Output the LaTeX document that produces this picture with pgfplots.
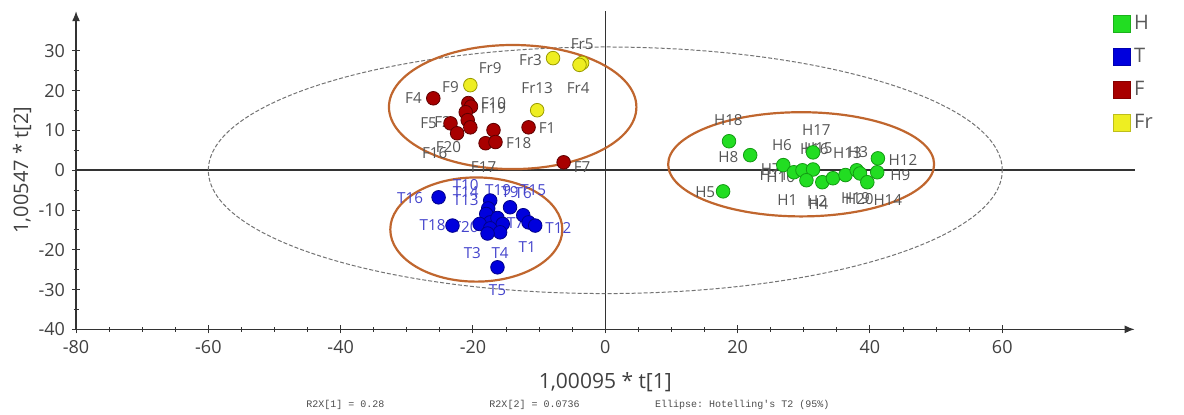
\documentclass[border=0pt]{standalone}
\usepackage{fontspec}
\setmainfont{Open Sans}
\setmonofont{Liberation Mono}
\usepackage{pgfplots}
\usepackage{pgfplotstable}
\pgfplotsset{compat=1.18}
\usetikzlibrary{arrows.meta}

\definecolor{hfill}{HTML}{22DD22}
\definecolor{hedge}{HTML}{139A13}
\definecolor{tfill}{HTML}{0000DD}
\definecolor{tedge}{HTML}{00008A}
\definecolor{ffill}{HTML}{A80000}
\definecolor{fedge}{HTML}{5E0000}
\definecolor{rfill}{HTML}{EEEE22}
\definecolor{redge}{HTML}{9A9A00}
\definecolor{ell}{HTML}{C0662E}
\definecolor{lblgrey}{HTML}{555555}
\definecolor{lblblue}{HTML}{4444CC}

\pgfplotstableread{
x y
18.7 7.3
21.9 3.8
17.8 -5.3
26.9 1.3
28.5 -0.5
29.8 0.0
31.4 4.5
31.4 0.2
30.4 -2.5
32.8 -3.0
34.4 -2.0
36.3 -1.2
38.0 0.0
38.5 -0.8
39.6 -3.0
41.2 3.0
41.1 -0.5
}\Hdata

\pgfplotstableread{
x y
-25.2 -6.8
-23.1 -13.9
-17.4 -7.6
-17.7 -9.6
-18.0 -11.0
-14.4 -9.3
-12.4 -11.3
-11.6 -13.1
-10.6 -13.9
-17.4 -13.1
-16.3 -12.0
-19.0 -13.5
-15.5 -13.5
-17.4 -14.6
-15.9 -15.6
-17.8 -15.9
-16.3 -24.4
}\Tdata

\pgfplotstableread{
x y
-26.0 18.1
-20.7 16.9
-20.3 16.0
-21.1 14.6
-20.8 12.6
-20.4 10.8
-23.4 11.8
-22.4 9.3
-16.9 10.1
-18.1 6.8
-16.6 7.1
-11.6 10.8
-6.3 2.0
}\Fdata

\pgfplotstableread{
x y
-7.9 28.2
-3.5 27.0
-3.9 26.5
-20.4 21.4
-10.3 15.1
}\Frdata

\pgfplotstableread{
x y label
-29.0 18.1 F4
-23.4 20.9 F9
-17.4 25.7 Fr9
-11.3 27.7 Fr3
-3.5 31.7 Fr5
-4.1 20.7 Fr4
-10.3 20.7 Fr13
-16.9 16.9 F10
-16.9 15.6 F19
-26.7 11.8 F5
-24.6 12.1 F2
-23.7 5.8 F20
-25.8 4.3 F16
-18.4 0.8 F17
-13.1 6.8 F18
-8.8 10.6 F1
-3.5 0.8 F7
18.6 12.6 H18
18.6 3.3 H8
15.1 -5.5 H5
26.7 6.3 H6
27.5 -7.6 H1
25.0 0.3 H7
25.5 -1.3 H11
26.5 -1.8 H10
31.9 10.1 H17
32.2 5.5 H15
31.6 5.3 H16
36.6 4.3 H13
38.2 4.5 H3
45.0 2.5 H12
44.6 -1.3 H9
32.0 -7.6 H2
32.2 -8.6 H4
37.8 -7.1 H19
38.4 -7.3 H20
42.7 -7.6 H14
}\GreyLabels

\pgfplotstableread{
x y label
-29.5 -7.0 T16
-21.1 -3.8 T10
-21.1 -5.5 T14
-21.1 -7.6 T13
-16.2 -5.0 T19
-14.4 -5.5 T9
-12.4 -5.8 T6
-10.9 -5.0 T15
-26.1 -13.9 T18
-21.1 -14.4 T20
-7.1 -14.4 T12
-13.6 -13.4 T7
-11.8 -19.4 T1
-20.1 -20.7 T3
-15.9 -20.9 T4
-16.3 -30.2 T5
}\BlueLabels

\begin{document}
\begin{tikzpicture}
\begin{axis}[
  name=ax,
  scale only axis,
  width=529pt, height=159pt,
  xmin=-80, xmax=80, ymin=-40, ymax=40,
  axis lines=left,
  axis line style={draw=black!80, line width=0.6pt, -{Latex[length=5pt,width=4pt]}},
  xtick={-80,-60,...,60},
  ytick={-40,-30,...,30},
  minor x tick num=3,
  minor y tick num=1,
  tick align=center,
  major tick length=4pt,
  minor tick length=2.5pt,
  tick style={black!80, line width=0.5pt},
  ticklabel style={font=\fontsize{9}{11}\selectfont, text=black!75},
  /pgf/number format/assume math mode=true,
  clip=false,
  legend style={at={(0.98,1.0)}, anchor=north west, draw=none, fill=none,
    font=\fontsize{10}{12}\selectfont, text=black!65,
    row sep=3.8pt, inner sep=0pt, outer sep=0pt,
    /tikz/every even column/.append style={column sep=3pt}},
  legend cell align=left,
]
\addlegendimage{only marks, mark=square*, mark size=4.2pt, mark options={fill=hfill, draw=hfill!80!black}}
\addlegendentry{H}
\addlegendimage{only marks, mark=square*, mark size=4.2pt, mark options={fill=tfill, draw=tfill!80!black}}
\addlegendentry{T}
\addlegendimage{only marks, mark=square*, mark size=4.2pt, mark options={fill=ffill, draw=ffill!80!black}}
\addlegendentry{F}
\addlegendimage{only marks, mark=square*, mark size=4.2pt, mark options={fill=rfill, draw=rfill!80!black}}
\addlegendentry{Fr}

% zero lines
\draw[black!80, line width=0.8pt] (axis cs:-80,0) -- (axis cs:80,0);
\draw[black!80, line width=0.8pt] (axis cs:0,-40) -- (axis cs:0,40);

% Hotelling ellipse
\draw[black!55, dashed, dash pattern=on 2pt off 1pt, line width=0.5pt] (axis cs:0,0) ellipse [x radius=60, y radius=31];
% group ellipses
\draw[ell, line width=1.1pt] (axis cs:-14.0,15.9) ellipse [x radius=18.7, y radius=15.6];
\draw[ell, line width=1.1pt] (axis cs:-19.5,-14.9) ellipse [x radius=13.0, y radius=13.1];
\draw[ell, line width=1.1pt] (axis cs:29.6,1.5) ellipse [x radius=20.1, y radius=13.1];

% labels
\addplot[draw=none, mark=none, forget plot, nodes near coords, point meta=explicit symbolic,
  nodes near coords align=center,
  every node near coord/.append style={anchor=center, inner sep=0pt, font=\fontsize{7.6}{9}\selectfont, text=lblgrey}]
  table[x=x, y=y, meta=label] {\GreyLabels};
\addplot[draw=none, mark=none, forget plot, nodes near coords, point meta=explicit symbolic,
  nodes near coords align=center,
  every node near coord/.append style={anchor=center, inner sep=0pt, font=\fontsize{7.6}{9}\selectfont, text=lblblue}]
  table[x=x, y=y, meta=label] {\BlueLabels};

% points
\addplot[only marks, mark=*, mark size=3.4pt, forget plot, mark options={fill=hfill, draw=hedge, line width=0.4pt}] table[x=x,y=y] {\Hdata};
\addplot[only marks, mark=*, mark size=3.4pt, forget plot, mark options={fill=tfill, draw=tedge, line width=0.4pt}] table[x=x,y=y] {\Tdata};
\addplot[only marks, mark=*, mark size=3.4pt, forget plot, mark options={fill=ffill, draw=fedge, line width=0.4pt}] table[x=x,y=y] {\Fdata};
\addplot[only marks, mark=*, mark size=3.4pt, forget plot, mark options={fill=rfill, draw=redge, line width=0.4pt}] table[x=x,y=y] {\Frdata};

% axis titles and footer
\node[font=\fontsize{10.5}{12}\selectfont, text=black!75] at ([yshift=-26.5pt]rel axis cs:0.5,0) {1,00095 * t[1]};
\node[font=\fontsize{10}{12}\selectfont, text=black!75, rotate=90] at ([xshift=-27pt]rel axis cs:0,0.5) {1,00547 * t[2]};
\node[font=\ttfamily\fontsize{5}{6}\selectfont, text=black!70] at ([yshift=-38pt]axis cs:-39.3,-40) {R2X[1] = 0.28};
\node[font=\ttfamily\fontsize{5}{6}\selectfont, text=black!70] at ([yshift=-38pt]axis cs:-10.7,-40) {R2X[2] = 0.0736};
\node[font=\ttfamily\fontsize{5}{6}\selectfont, text=black!70] at ([yshift=-38pt]axis cs:20.7,-40) {Ellipse: Hotelling's T2 (95\%)};
\end{axis}
\pgfresetboundingbox
\path[use as bounding box] ([xshift=-38pt, yshift=-42.6pt]ax.south west) rectangle ([xshift=24.7pt, yshift=5.6pt]ax.north east);
\end{tikzpicture}
\end{document}
